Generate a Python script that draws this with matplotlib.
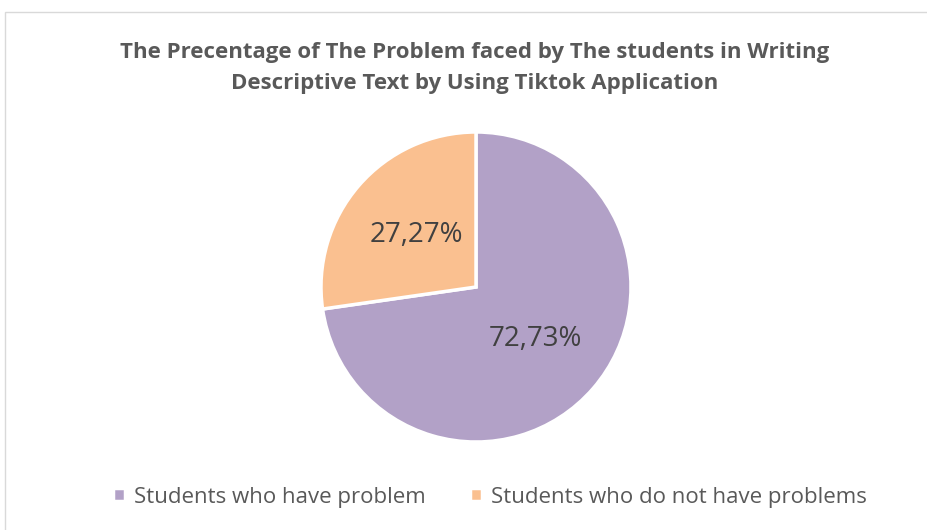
import matplotlib.pyplot as plt
from matplotlib.patches import Rectangle

labels = ["Students who have problem", "Students who do not have problems"]
values = [72.73, 27.27]
colors = ["#B2A1C7", "#FAC090"]
title = ("The Precentage of The Problem faced by The students in Writing\n"
         "Descriptive Text by Using Tiktok Application")

W, H = 928, 530
fig = plt.figure(figsize=(W / 100, H / 100), dpi=100)
fig.patch.set_facecolor("white")

# chart frame (only top and left edges are visible in the crop)
fig.add_artist(Rectangle((5 / W, -0.1), 1.1, (H - 12) / H + 0.1,
                         transform=fig.transFigure, fill=False,
                         edgecolor="#D9D9D9", linewidth=1))

cx, cy, r = 476, 243, 155
ax = fig.add_axes([(cx - r) / W, (cy - r) / H, 2 * r / W, 2 * r / H])
wedges, texts, autotexts = ax.pie(
    values, colors=colors, startangle=90, counterclock=False,
    autopct=lambda p: f"{p:.2f}%".replace(".", ","), pctdistance=0.51,
    wedgeprops=dict(edgecolor="white", linewidth=2.5),
    textprops=dict(color="#404040", fontsize=20, family="Open Sans"))
ax.set_xlim(-1, 1)
ax.set_ylim(-1, 1)
ax.set_aspect("equal")
ax.axis("off")

fig.text(475 / W, (H - 68) / H, title, ha="center", va="center",
         fontsize=16, fontweight="bold", color="#595959",
         family="Open Sans", linespacing=1.6)

leg = fig.legend(wedges, labels, loc="center", bbox_to_anchor=(0.528, (H - 497) / H),
                 ncol=2, frameon=False, handlelength=0.55, handleheight=0.55,
                 handletextpad=0.4, columnspacing=2.0,
                 prop=dict(family="Open Sans", size=16))
for t in leg.get_texts():
    t.set_color("#595959")

fig.savefig("out.png", dpi=100)
